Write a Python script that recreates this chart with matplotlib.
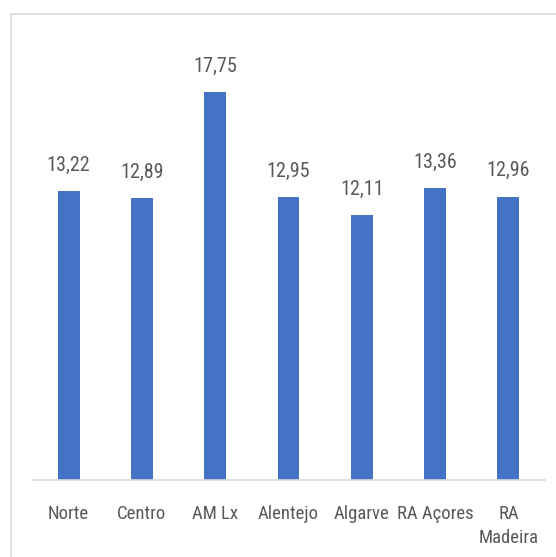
import matplotlib
matplotlib.use('Agg')
import matplotlib.pyplot as plt
from matplotlib.patches import Rectangle

regioes = ['Norte', 'Centro', 'AM Lx', 'Alentejo', 'Algarve', 'RA Açores', 'RA\nMadeira']
valores = [13.22, 12.89, 17.75, 12.95, 12.11, 13.36, 12.96]
rotulos = ['13,22', '12,89', '17,75', '12,95', '12,11', '13,36', '12,96']

plt.rcParams['font.family'] = ['Roboto Condensed', 'DejaVu Sans Condensed', 'Liberation Sans Narrow', 'Roboto', 'DejaVu Sans']

fig = plt.figure(figsize=(5.56, 5.57), dpi=100)
# contorno cinzento claro do gráfico
fig.patches.append(Rectangle((11 / 556, -0.05), 1.1, 1 - 14 / 557 + 0.05,
                             transform=fig.transFigure, fill=False,
                             edgecolor='#D9D9D9', linewidth=1.2))

ax = fig.add_axes([32 / 556, 77 / 557, 513 / 556, 430 / 557])
x = range(len(regioes))
barras = ax.bar(x, valores, width=0.3, color='#4472C4')
for b, r in zip(barras, rotulos):
    ax.text(b.get_x() + b.get_width() / 2, b.get_height() + 0.75, r,
            ha='center', va='bottom', fontsize=14.5, color='#595959', fontstretch='condensed')

ax.set_xlim(-0.5, len(regioes) - 0.5)
ax.set_ylim(0, 19.67)
ax.set_xticks(list(x))
ax.set_xticklabels(regioes, fontsize=13.5, color='#595959', linespacing=1.45, fontstretch='condensed')
ax.tick_params(axis='x', length=0, pad=18)
ax.set_yticks([])
for s in ['top', 'right', 'left']:
    ax.spines[s].set_visible(False)
ax.spines['bottom'].set_color('#D9D9D9')
ax.spines['bottom'].set_linewidth(1.2)

fig.savefig('out.png', dpi=100)
